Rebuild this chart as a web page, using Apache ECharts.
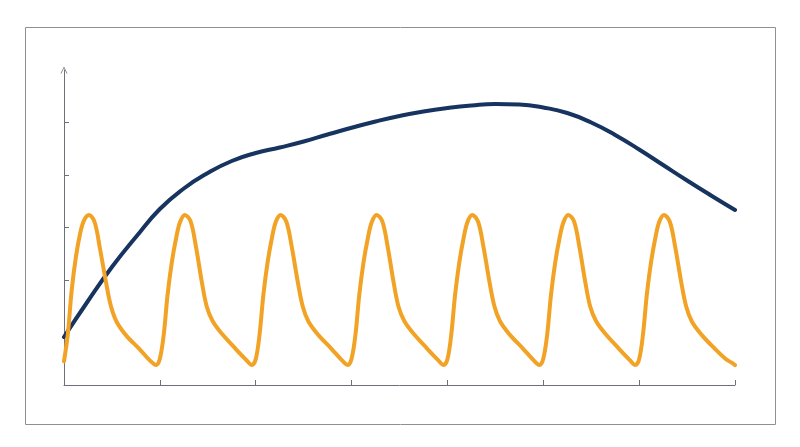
<!DOCTYPE html>
<html>
<head>
<meta charset="utf-8">
<script src="https://cdn.jsdelivr.net/npm/echarts@6/dist/echarts.min.js"></script>
<style>
html,body{margin:0;padding:0;background:#fff;}
#c{width:800px;height:447px;}
</style>
</head>
<body>
<div id="c"></div>
<script>
// x positions (in x-axis units) and values for the periodic orange series
const orangeX = [
  0, 0.04, 0.08, 0.125, 0.17, 0.21, 0.26, 0.32, 0.375, 0.44, 0.49, 0.55, 0.65, 0.79, 0.90, 0.96,
  1, 1.04, 1.08, 1.125, 1.17, 1.21, 1.26, 1.32, 1.375, 1.44, 1.49, 1.55, 1.65, 1.79, 1.90, 1.96,
  2, 2.04, 2.08, 2.125, 2.17, 2.21, 2.26, 2.32, 2.375, 2.44, 2.49, 2.55, 2.65, 2.79, 2.90, 2.96,
  3, 3.04, 3.08, 3.125, 3.17, 3.21, 3.26, 3.32, 3.375, 3.44, 3.49, 3.55, 3.65, 3.79, 3.90, 3.96,
  4, 4.04, 4.08, 4.125, 4.17, 4.21, 4.26, 4.32, 4.375, 4.44, 4.49, 4.55, 4.65, 4.79, 4.90, 4.96,
  5, 5.04, 5.08, 5.125, 5.17, 5.21, 5.26, 5.32, 5.375, 5.44, 5.49, 5.55, 5.65, 5.79, 5.90, 5.96,
  6, 6.04, 6.08, 6.125, 6.17, 6.21, 6.26, 6.32, 6.375, 6.44, 6.49, 6.55, 6.65, 6.79, 6.90, 6.96,
  7
];
const orangeY = [
  0.45, 0.97, 1.80, 2.45, 2.90, 3.14, 3.24, 3.10, 2.60, 1.94, 1.50, 1.20, 0.94, 0.68, 0.46, 0.38,
  0.50, 0.95, 1.71, 2.34, 2.80, 3.10, 3.24, 3.12, 2.65, 1.94, 1.49, 1.22, 0.97, 0.69, 0.48, 0.38,
  0.49, 0.96, 1.72, 2.35, 2.81, 3.11, 3.24, 3.11, 2.64, 1.95, 1.50, 1.21, 0.96, 0.69, 0.47, 0.38,
  0.50, 0.95, 1.71, 2.34, 2.80, 3.10, 3.24, 3.12, 2.65, 1.94, 1.49, 1.22, 0.97, 0.69, 0.48, 0.38,
  0.49, 0.96, 1.72, 2.35, 2.81, 3.11, 3.24, 3.11, 2.64, 1.95, 1.50, 1.21, 0.96, 0.69, 0.47, 0.38,
  0.50, 0.95, 1.71, 2.34, 2.80, 3.10, 3.24, 3.12, 2.65, 1.94, 1.49, 1.22, 0.97, 0.69, 0.48, 0.38,
  0.49, 0.96, 1.72, 2.35, 2.81, 3.11, 3.24, 3.11, 2.64, 1.95, 1.50, 1.21, 0.96, 0.69, 0.50, 0.43,
  0.38
];
// slow navy trend
const navyX = [0, 0.25, 0.5, 0.75, 1, 1.25, 1.5, 1.75, 2, 2.25, 2.5, 2.75, 3, 3.25, 3.5, 3.75, 4, 4.25, 4.5, 4.75, 5, 5.25, 5.5, 5.75, 6, 6.25, 6.5, 6.75, 7];
const navyY = [0.914, 1.600, 2.248, 2.819, 3.352, 3.743, 4.038, 4.267, 4.419, 4.524, 4.638, 4.771, 4.899, 5.019, 5.124, 5.210, 5.276, 5.324, 5.352, 5.343, 5.286, 5.181, 5.000, 4.762, 4.486, 4.190, 3.895, 3.610, 3.333];
// axis ticks
const xTicks = [0, 1, 2, 3, 4, 5, 6, 7];
const yTicks = [1, 2, 3, 4, 5];

const chart = echarts.init(document.getElementById('c'), null, {renderer: 'canvas'});
const axisColor = '#6e7079';
const option = {
  backgroundColor: '#ffffff',
  animation: false,
  graphic: [{
    type: 'rect',
    shape: {x: 25.5, y: 27.5, width: 750, height: 397},
    style: {fill: 'none', stroke: '#8d9096', lineWidth: 1},
    silent: true
  }],
  grid: {left: 64, right: 65, top: 70, bottom: 62},
  xAxis: {
    type: 'value', min: 0, max: 7, interval: 1,
    axisLine: {show: true, lineStyle: {color: axisColor, width: 1}},
    axisTick: {show: true, inside: true, length: 5, customValues: xTicks, lineStyle: {color: axisColor}},
    axisLabel: {show: false},
    splitLine: {show: false}
  },
  yAxis: {
    type: 'value', min: 0, max: 6, interval: 1,
    axisLine: {show: true, symbol: ['none', 'path://M0,10 L5,0 L10,10 L8.8,10 L5,2.2 L1.2,10 Z'], symbolSize: [10, 7], lineStyle: {color: axisColor, width: 1}},
    axisTick: {show: true, inside: true, length: 5, customValues: yTicks, lineStyle: {color: axisColor}},
    axisLabel: {show: false},
    splitLine: {show: false}
  },
  series: [
    {
      type: 'line', name: 'navy', smooth: 0.5, showSymbol: false,
      data: navyX.map((x, i) => [x, navyY[i]]),
      lineStyle: {color: '#16345f', width: 4, cap: 'round'},
      z: 2
    },
    {
      type: 'line', name: 'orange', smooth: 0.35, showSymbol: false,
      data: orangeX.map((x, i) => [x, orangeY[i]]),
      lineStyle: {color: '#f2a224', width: 4, cap: 'round'},
      z: 3
    }
  ]
};
chart.setOption(option);
</script>
</body>
</html>
